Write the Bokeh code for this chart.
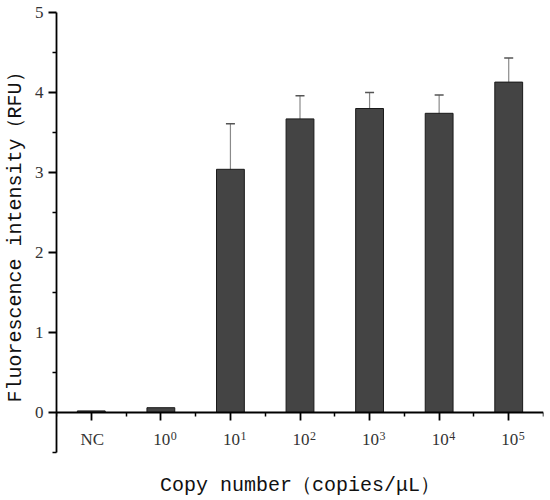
from bokeh.plotting import figure
from bokeh.models import (ColumnDataSource, Whisker, TeeHead, LinearAxis, FixedTicker,
                          Range1d)
from bokeh.core.properties import value
from bokeh.embed import file_html
from bokeh.resources import INLINE

categories = ["NC", "10", "10", "10", "10", "10", "10"]
exponents = ["", "0", "1", "2", "3", "4", "5"]
values = [0.02, 0.06, 3.04, 3.67, 3.80, 3.74, 4.13]
errors = [0.0, 0.0, 0.57, 0.29, 0.20, 0.23, 0.30]
y_ticks = [0, 1, 2, 3, 4, 5]
y_minor = [-0.5, 0.5, 1.5, 2.5, 3.5, 4.5]

xs = list(range(1, len(categories) + 1))

p = figure(width=550, height=500, output_backend="svg", toolbar_location=None,
           x_range=Range1d(0.5, len(categories) + 0.5), y_range=Range1d(-0.5, 5),
           x_axis_location=None, min_border_left=56, min_border_top=12,
           min_border_right=7, min_border_bottom=48)
p.outline_line_color = None
p.xgrid.visible = False
p.ygrid.visible = False
p.background_fill_color = "white"

src = ColumnDataSource(dict(x=xs, top=values))
p.vbar(x="x", top="top", width=0.4, source=src, fill_color="#444444",
       line_color="#1a1a1a", line_width=1)

wx = [x for x, e in zip(xs, errors) if e > 0]
wu = [v + e for v, e in zip(values, errors) if e > 0]
wl = [v - e for v, e in zip(values, errors) if e > 0]
wsrc = ColumnDataSource(dict(base=wx, upper=wu, lower=wl))
w = Whisker(base="base", upper="upper", lower="lower", source=wsrc,
            line_color="#8a8a8a", line_width=1.2,
            upper_head=TeeHead(size=9, line_color="#555555", line_width=1.5),
            lower_head=TeeHead(size=9, line_color="#555555", line_width=1.5))
p.add_layout(w)

# y axis
ya = p.yaxis[0]
ya.ticker = FixedTicker(ticks=y_ticks, minor_ticks=y_minor)
ya.axis_label = "Fluorescence intensity（RFU）"
ya.axis_label_text_font = "Liberation Mono"
ya.axis_label_text_font_style = "normal"
ya.axis_label_text_font_size = "20px"
ya.axis_label_text_color = "#111111"
ya.axis_label_standoff = 5
ya.major_label_text_font = "Liberation Serif"
ya.major_label_text_font_size = "17px"
ya.major_label_text_color = "#333333"
ya.major_label_standoff = 5
ya.major_tick_out = 8
ya.major_tick_in = 0
ya.minor_tick_out = 4
ya.minor_tick_in = 0
ya.axis_line_width = 1.8
ya.major_tick_line_width = 1.8
ya.minor_tick_line_width = 1.5

# x axis at y = 0
xa = LinearAxis(fixed_location=0)
xa.ticker = FixedTicker(ticks=xs, minor_ticks=[x + 0.5 for x in [0] + xs])
xa.major_label_overrides = {x: "" for x in xs}
xa.major_tick_out = 8
xa.major_tick_in = 0
xa.minor_tick_out = 4
xa.minor_tick_in = 0
xa.axis_line_width = 1.8
xa.major_tick_line_width = 1.8
xa.minor_tick_line_width = 1.5
p.add_layout(xa, "below")

# x axis title carried by an otherwise invisible axis at the bottom of the frame
xt = LinearAxis(ticker=FixedTicker(ticks=[]), axis_line_color=None,
                major_tick_line_color=None, minor_tick_line_color=None,
                major_label_text_font_size="0px")
xt.axis_label = "Copy number（copies/μL）"
xt.axis_label_text_font = "Liberation Mono"
xt.axis_label_text_font_style = "normal"
xt.axis_label_text_font_size = "20px"
xt.axis_label_text_color = "#111111"
xt.axis_label_standoff = 21
p.add_layout(xt, "below")

# x tick labels with superscripts
base_src = ColumnDataSource(dict(x=xs, y=[0] * len(xs), t=categories,
                                 e=exponents))
p.text(x="x", y="y", text="t", source=base_src, text_align="center",
       text_baseline="middle", y_offset=27, x_offset=1,
       text_font=value("Liberation Serif"), text_font_size="17px",
       text_color="#333333")
p.text(x="x", y="y", text="e", source=base_src, text_align="left",
       text_baseline="middle", y_offset=23, x_offset=10,
       text_font=value("Liberation Serif"), text_font_size="12px",
       text_color="#333333")

open("out.html", "w").write(file_html(p, INLINE))
